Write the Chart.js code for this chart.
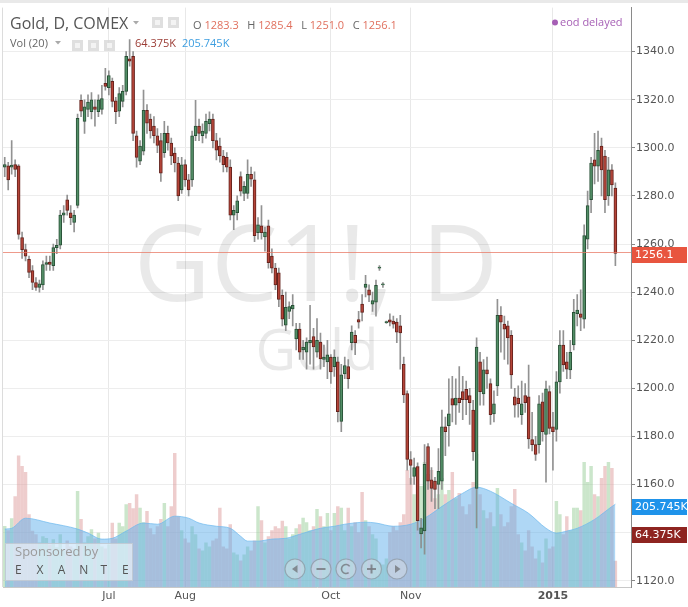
<!DOCTYPE html>
<html><head><meta charset="utf-8">
<script src="https://cdn.jsdelivr.net/npm/chart.js@4.4.1/dist/chart.umd.min.js"></script>
<style>html,body{margin:0;padding:0;background:#fff;}#wrap{width:688px;height:607px;}</style>
</head><body><div id="wrap"><canvas id="c" width="688" height="607"></canvas></div>
<script>
// ---- data (daily bars, mid-May 2014 .. end Jan 2015) ----
const OPEN = [1292,1292.5,1292,1293,1292.5,1262.7,1257.7,1253.6,1249,1244,
1242,1243,1251.5,1252.5,1251,1258.5,1259.5,1272,1278.4,1273,
1269,1276,1319.7,1311,1316,1315,1317,1315,1316,1326.8,
1325,1327.6,1319.5,1315.2,1319.3,1323.5,1337,1338,1305,1294.5,
1298.6,1315.6,1312,1309,1305,1303,1298,1306,1302,1297.8,
1293.7,1282.5,1293,1286.7,1286.7,1305,1309,1305,1306,1310,
1312,1303,1300.7,1296.6,1296,1292,1272,1273,1288,1281,
1281,1289,1286.7,1264.7,1267.6,1263,1267.6,1255,1250,1248,
1238.7,1226.3,1232,1233,1220.5,1224.6,1216,1215,1219,1221.5,
1215,1219.2,1212,1211,1213,1209,1211,1186.2,1206,1209,
1219,1222,1228.6,1235,1242,1241,1235,1235.8,1250,1243,
1227.3,1228.5,1228,1227.5,1226,1210,1197.8,1170.4,1163.4,1167.5,
1139.5,1140.7,1175.8,1162,1161.4,1160,1161.4,1184,1184.5,1195.7,
1193,1196,1198.6,1199.6,1197,1191,1158.4,1211,1197.7,1207.7,
1202,1189.4,1201,1230.4,1226.7,1226,1222,1196.5,1196,1189,
1197,1196.5,1178.7,1176.6,1176.6,1194.4,1180.8,1198.6,1184,1182.9,
1202.7,1218,1211,1207.7,1218,1231,1231,1228.8,1262,1278.4,
1295,1292.4,1300.7,1296.6,1280,1290.8,1283.3];
const HIGH = [1296,1294,1303,1295,1293,1265,1260,1255,1251,1246,
1245,1253,1255,1255,1260,1262,1274,1276,1280.4,1276,
1274,1314,1322,1320,1322,1323,1320,1322,1326,1333,
1332,1329,1321,1325,1326,1340,1345,1340,1307,1303,
1324,1318,1314,1313,1308,1306,1311,1309,1304,1300,
1296,1296,1295,1289,1307,1319.7,1312,1310,1314,1315,
1314,1306,1304,1299,1298,1295,1276,1280,1290,1286,
1295,1292,1290,1271,1276,1267,1270,1258,1252,1250,
1241,1240,1236,1239,1227,1227,1220,1221,1234.5,1225,
1229,1223,1218,1220,1214,1216,1213,1210,1213,1212,
1226,1224,1232,1239,1247,1243,1240,1245,1251,1244,
1228,1231,1230,1229,1230.4,1213,1199,1173.7,1171,1169,
1146,1176.6,1177,1167,1163,1175,1191,1188,1204,1205,
1204,1209,1205,1203,1200,1195,1221,1215,1212,1213,
1204,1199,1237,1234,1230,1228,1224,1200,1201,1203,
1202,1209.7,1190,1180,1197,1198,1203,1201,1190,1207,
1224,1224,1215,1220,1237,1239,1241,1268,1282,1296,
1306,1307,1304,1299,1296,1293,1285.4];
const LOW = [1288,1282.5,1289,1288,1262,1254,1253,1246,1241,1240.7,
1240,1241,1249,1249,1249,1256,1258,1269,1272,1268,
1265,1275,1313,1306,1313,1312,1309,1313,1314,1324,
1322,1317,1310,1313,1317,1322,1334,1303,1292,1293,
1297,1306,1304,1302,1298,1286,1296,1299,1293,1290,
1278,1281,1284,1280,1284,1303,1303,1302,1304,1307,
1300,1295,1294,1290,1290,1270,1266,1270,1280,1278,
1279,1284,1261,1262,1262,1257,1250,1248,1241,1234,
1226,1224,1229,1226,1216,1212,1212,1208,1210,1208,
1213,1208,1209,1204,1202,1205,1186,1182,1204,1200,
1216,1214,1225,1228,1238,1236,1232,1230,1249,1242,
1227,1226,1225,1219,1208,1194,1166,1160,1160,1141,
1133.6,1131,1158,1153,1150,1150,1158,1172,1176,1186,
1185,1190,1187,1189,1185,1170,1142,1193,1193,1200,
1185,1186,1197,1215,1212,1210,1200,1188,1188,1185,
1190,1175,1174,1170,1173,1178,1161,1181,1166,1178,
1198,1207,1204,1204,1216,1226,1224,1225,1258,1273,
1285,1286,1280,1273,1276,1280,1251.0];
const CLOSE = [1293,1286.7,1292.8,1291,1264,1257.7,1255,1248.2,1244,1242,
1243.5,1251.5,1252.3,1251.5,1258.5,1259.5,1272,1273,1274,1271,
1272,1312.3,1315.2,1317,1319,1320,1316,1320,1320.5,1325.5,
1330,1319.3,1315,1322.6,1323.5,1338,1336,1306,1296,1300.7,
1315.6,1310.2,1307,1305,1301,1289.5,1306,1302,1296.6,1293.7,
1280,1292.9,1286.7,1282.5,1305,1309,1306,1307,1311,1312,
1303,1299,1296.6,1293,1292,1272,1274,1278,1282,1284,
1289,1287,1263.5,1268,1264.7,1265,1252.3,1250,1243,1237,
1228.8,1233.7,1234,1234.5,1224.6,1215,1217,1219.2,1220,1217.2,
1220,1212.2,1213,1213.9,1206.8,1213,1190.3,1205.6,1209.5,1204,
1223.4,1219,1227.5,1231.6,1243.3,1238.7,1236.5,1242.8,1250.4,1243.4,
1227.8,1227.5,1226.7,1223.4,1223,1197.3,1170.4,1168,1167,1145,
1142,1168.4,1161.4,1158.4,1158,1165.5,1184,1182,1189.4,1193,
1196,1194,1195.3,1195.3,1194,1173.7,1217.2,1198.6,1207.7,1206,
1189,1193.6,1230.4,1227.5,1224.6,1221,1205.6,1193,1193.6,1193.6,
1194,1179,1176.6,1172.5,1193.6,1182,1199.8,1183.3,1182,1202.7,
1218,1209.7,1208,1215,1231.6,1232.5,1229.5,1263.5,1276,1293.7,
1292.4,1299,1290.8,1278.4,1290.8,1284.6,1256.1];
const VOLUME = [151,140,170,225,326,300,285,180,139,130,
110,125,121,105,118,98,130,90,115,100,
95,238,168,110,125,143,120,134,100,95,
105,159,120,159,150,205,208,195,230,196,
160,188,145,130,150,168,208,150,200,332,
175,140,120,110,150,130,95,90,110,100,
115,120,196,100,95,155,85,80,65,80,
100,90,115,200,165,110,125,140,150,145,
164,150,120,130,145,155,171,160,140,150,
193,175,150,183,140,183,200,196,140,196,
150,160,135,235,165,150,130,120,60,55,
70,135,150,140,160,180,290,270,230,300,
250,310,280,290,220,230,270,230,240,285,
220,233,200,180,205,260,330,230,190,170,
185,150,245,180,150,160,200,243,130,110,
90,140,100,70,90,60,120,95,100,213,
180,130,175,140,196,196,190,310,260,300,
230,225,270,300,310,295,64.375];
// 20-bar volume average, vertices (bar index, K)
const VOL_MA_INDEX = [0,2,6,13,21,24,28,31,35,40,44,49,53,56,61,65,68,70,73,77,81,85,91,95,98,104,107,112,117,121,127,132,136,140,146,151,156,159,162,165,170,175,176];
const VOL_MA_VALUE = [144,146,171,159,144,134,119,121,139,159,156,176,171,159,151,146,126,114,114,119,121,131,146,151,156,161,159,151,156,171,206,233,248,238,208,183,146,134,139,146,168,200,205.745];
const MONTH_TICK_INDEX = [30,52,94,117,158];
const MONTH_TICK_TEXT = ['Jul','Aug','Oct','Nov','2015'];
const PRICE_TICKS = [1120,1140,1160,1180,1200,1220,1240,1260,1280,1300,1320,1340];
const EMPTY_SLOTS = 4;

// ---- styling ----
const AXIS_FONT = '"DejaVu Sans", sans-serif';
const HEAD_FONT = '"Open Sans", sans-serif';
const UP_BODY='rgb(82,142,102)', UP_EDGE='rgb(40,80,54)', DN_BODY='rgb(180,68,56)', DN_EDGE='rgb(100,34,28)';

const N = OPEN.length;
const TOTAL = N + EMPTY_SLOTS;
const labels = Array.from({length: TOTAL}, (_, i) => String(i));
const isUp = OPEN.map((o, i) => CLOSE[i] >= o);
const wickData = HIGH.map((h, i) => [LOW[i], h]);
const bodyData = OPEN.map((o, i) => [Math.min(o, CLOSE[i]), Math.max(o, CLOSE[i])]);
const maData = VOL_MA_INDEX.map((x, i) => ({x, y: VOL_MA_VALUE[i]}));

function fmtK(v){ return v.toFixed(3) + 'K'; }

const overlay = {
  id: 'overlay',
  beforeDraw(chart){
    const c = chart.ctx;
    c.save(); c.fillStyle = '#fff'; c.fillRect(0,0,chart.width,chart.height); c.restore();
  },
  beforeDatasetsDraw(chart){
    const c = chart.ctx;
    c.save();
    c.fillStyle = 'rgba(0,0,0,0.085)';
    c.textAlign = 'center'; c.textBaseline = 'alphabetic';
    c.font = '106px ' + HEAD_FONT;
    c.fillText('GC1!, D', 316, 301);
    c.font = '56px ' + HEAD_FONT;
    c.fillText('Gold', 317, 370);
    c.restore();
  },
  afterDatasetsDraw(chart){
    const c = chart.ctx, a = chart.chartArea;
    const py = Math.round(chart.scales.y.getPixelForValue(CLOSE[N-1])) - 0.5;
    c.save();
    c.strokeStyle = 'rgba(232,120,100,0.75)'; c.lineWidth = 1;
    c.beginPath(); c.moveTo(a.left, py); c.lineTo(a.right, py); c.stroke();
    c.restore();
  },
  afterDraw(chart){
    const c = chart.ctx, a = chart.chartArea;
    const y = chart.scales.y, yv = chart.scales.yv;
    c.save();
    // frame
    c.strokeStyle = '#dcdcdc'; c.lineWidth = 1;
    c.beginPath(); c.moveTo(a.left - 0.5, a.top); c.lineTo(a.left - 0.5, a.bottom); c.stroke();
    c.fillStyle = '#e9e9e9'; c.fillRect(0, 0, chart.width, 3);
    // header line 1
    c.textBaseline = 'alphabetic'; c.textAlign = 'left';
    c.fillStyle = '#555'; c.font = '16px ' + HEAD_FONT;
    c.fillText('Gold, D, COMEX', 10, 29);
    function caret(x, yy){ c.fillStyle = '#aaa'; c.beginPath(); c.moveTo(x-3, yy-2); c.lineTo(x+3, yy-2); c.lineTo(x, yy+1.5); c.closePath(); c.fill(); }
    function iconBox(x, yy){ c.fillStyle = 'rgba(215,215,215,0.8)'; c.fillRect(x, yy, 11, 11); c.fillStyle = 'rgba(245,245,245,0.9)'; c.fillRect(x+3, yy+3, 5, 5); }
    caret(136, 23);
    iconBox(152, 17); iconBox(168, 17);
    c.font = '11px ' + HEAD_FONT;
    const parts = [['O ', '#666'], [OPEN[N-1].toFixed(1), '#e0705e'], ['   H ', '#666'], [HIGH[N-1].toFixed(1), '#e0705e'], ['   L ', '#666'], [LOW[N-1].toFixed(1), '#e0705e'], ['   C ', '#666'], [CLOSE[N-1].toFixed(1), '#e0705e']];
    let hx = 193;
    parts.forEach(p => { c.fillStyle = p[1]; c.fillText(p[0], hx, 29); hx += c.measureText(p[0]).width; });
    c.fillStyle = '#a65fb5';
    c.beginPath(); c.arc(555, 22.5, 3, 0, Math.PI*2); c.fill();
    c.fillText('eod delayed', 560, 26);
    // header line 2
    c.fillStyle = '#666'; c.font = '11px ' + HEAD_FONT;
    c.fillText('Vol (20)', 10, 47);
    caret(58, 43);
    iconBox(72, 40); iconBox(88, 40); iconBox(104, 40);
    c.fillStyle = '#9b3b34'; c.fillText(fmtK(VOLUME[N-1]), 135, 47);
    c.fillStyle = '#3d9ee0'; c.fillText(fmtK(VOL_MA_VALUE[VOL_MA_VALUE.length-1]), 182, 47);
    // sponsor box
    c.fillStyle = 'rgba(255,255,255,0.55)'; c.fillRect(5, 543, 128, 38);
    c.strokeStyle = 'rgba(190,200,210,0.9)'; c.strokeRect(5.5, 543.5, 127, 37);
    c.fillStyle = '#9a9a9a'; c.font = '13px ' + HEAD_FONT;
    c.fillText('Sponsored by', 15, 556);
    c.fillStyle = '#555'; c.font = '12px ' + HEAD_FONT;
    'EXANTE'.split('').forEach((ch, k) => c.fillText(ch, 15 + k*21.4, 574));
    // nav buttons
    const bx = [295, 321, 346, 371.5, 397], by = 569;
    bx.forEach((x, k) => {
      c.fillStyle = 'rgba(225,228,232,0.45)'; c.strokeStyle = 'rgba(140,150,160,0.7)'; c.lineWidth = 1.2;
      c.beginPath(); c.arc(x, by, 10, 0, Math.PI*2); c.fill(); c.stroke();
      c.fillStyle = 'rgba(120,125,130,0.85)'; c.strokeStyle = 'rgba(120,125,130,0.85)'; c.lineWidth = 1.6;
      if (k === 0){ c.beginPath(); c.moveTo(x+2.5, by-4); c.lineTo(x-3, by); c.lineTo(x+2.5, by+4); c.closePath(); c.fill(); }
      if (k === 1){ c.fillRect(x-4.5, by-1, 9, 2); }
      if (k === 2){ c.beginPath(); c.arc(x, by, 4.5, 0.3*Math.PI, 1.8*Math.PI); c.stroke(); }
      if (k === 3){ c.fillRect(x-4.5, by-1, 9, 2); c.fillRect(x-1, by-4.5, 2, 9); }
      if (k === 4){ c.beginPath(); c.moveTo(x-2, by-4); c.lineTo(x+3.5, by); c.lineTo(x-2, by+4); c.closePath(); c.fill(); }
    });
    // right-axis value tags
    function tag(text, cy, fill){
      c.fillStyle = fill; c.fillRect(632, Math.round(cy) - 8, 55, 16);
      c.fillStyle = '#fff'; c.font = '11px ' + AXIS_FONT; c.textBaseline = 'middle'; c.textAlign = 'left';
      c.fillText(text, 635, Math.round(cy) + 0.5);
    }
    tag(CLOSE[N-1].toFixed(1), y.getPixelForValue(CLOSE[N-1]) + 2, '#e8553f');
    const maY = yv.getPixelForValue(VOL_MA_VALUE[VOL_MA_VALUE.length-1]) + 3;
    tag(fmtK(VOL_MA_VALUE[VOL_MA_VALUE.length-1]), maY, '#1f93ea');
    tag(fmtK(VOLUME[N-1]), maY + 27.5, '#8e2420');
    c.restore();
  }
};

new Chart(document.getElementById('c'), {
  type: 'bar',
  data: {
    labels,
    datasets: [
      { type: 'bar', label: 'Volume', data: VOLUME, xAxisID: 'x', yAxisID: 'yv', grouped: false, order: 4,
        barThickness: 2.8, backgroundColor: isUp.map(u => u ? 'rgba(140,200,140,0.45)' : 'rgba(220,150,150,0.48)') },
      { type: 'line', label: 'Vol MA', data: maData, xAxisID: 'xl', yAxisID: 'yv', order: 3,
        borderColor: 'rgba(110,185,238,0.7)', borderWidth: 1, backgroundColor: 'rgba(95,175,235,0.5)',
        fill: 'origin', pointRadius: 0, cubicInterpolationMode: 'monotone' },
      { type: 'bar', label: 'Wick', data: wickData, xAxisID: 'x', yAxisID: 'y', grouped: false, order: 2,
        barThickness: 1, backgroundColor: 'rgba(140,140,140,0.95)' },
      { type: 'bar', label: 'Body', data: bodyData, xAxisID: 'x', yAxisID: 'y', grouped: false, order: 1,
        barThickness: 3, minBarLength: 1, borderWidth: 1, borderSkipped: false,
        backgroundColor: isUp.map(u => u ? UP_BODY : DN_BODY), borderColor: isUp.map(u => u ? UP_EDGE : DN_EDGE) }
    ]
  },
  options: {
    responsive: false, animation: false, devicePixelRatio: 1,
    layout: { padding: { left: 3, top: 5, right: 0, bottom: 0 } },
    plugins: { legend: { display: false }, tooltip: { enabled: false } },
    scales: {
      x: { type: 'category', offset: true,
        grid: { offset: false, color: '#e8e8e8', drawTicks: false },
        border: { color: '#c8c8c8' },
        afterBuildTicks: s => { s.ticks = MONTH_TICK_INDEX.map(v => ({ value: v })); },
        afterFit: s => { s.height = 20; },
        ticks: { autoSkip: false, maxRotation: 0, padding: 3, color: '#555',
          font: ctx => ({ family: AXIS_FONT, size: 11, weight: (ctx.tick && ctx.tick.label === '2015') ? 'bold' : 'normal' }),
          callback: v => MONTH_TICK_TEXT[MONTH_TICK_INDEX.indexOf(v)] } },
      xl: { type: 'linear', display: false, offset: false, min: -0.5, max: TOTAL - 0.5 },
      y: { type: 'linear', position: 'right', min: 1117.4, max: 1358.3,
        afterBuildTicks: s => { s.ticks = PRICE_TICKS.map(v => ({ value: v })); },
        afterFit: s => { s.width = 57; },
        grid: { color: '#ededed', tickLength: 4, tickColor: '#888' },
        border: { color: '#8a8a8a' },
        ticks: { padding: 1, color: '#555', font: { family: AXIS_FONT, size: 11 }, callback: v => Number(v).toFixed(1) } },
      yv: { type: 'linear', display: false, min: 0, max: 1440 }
    }
  },
  plugins: [overlay]
});
</script>
</body></html>
